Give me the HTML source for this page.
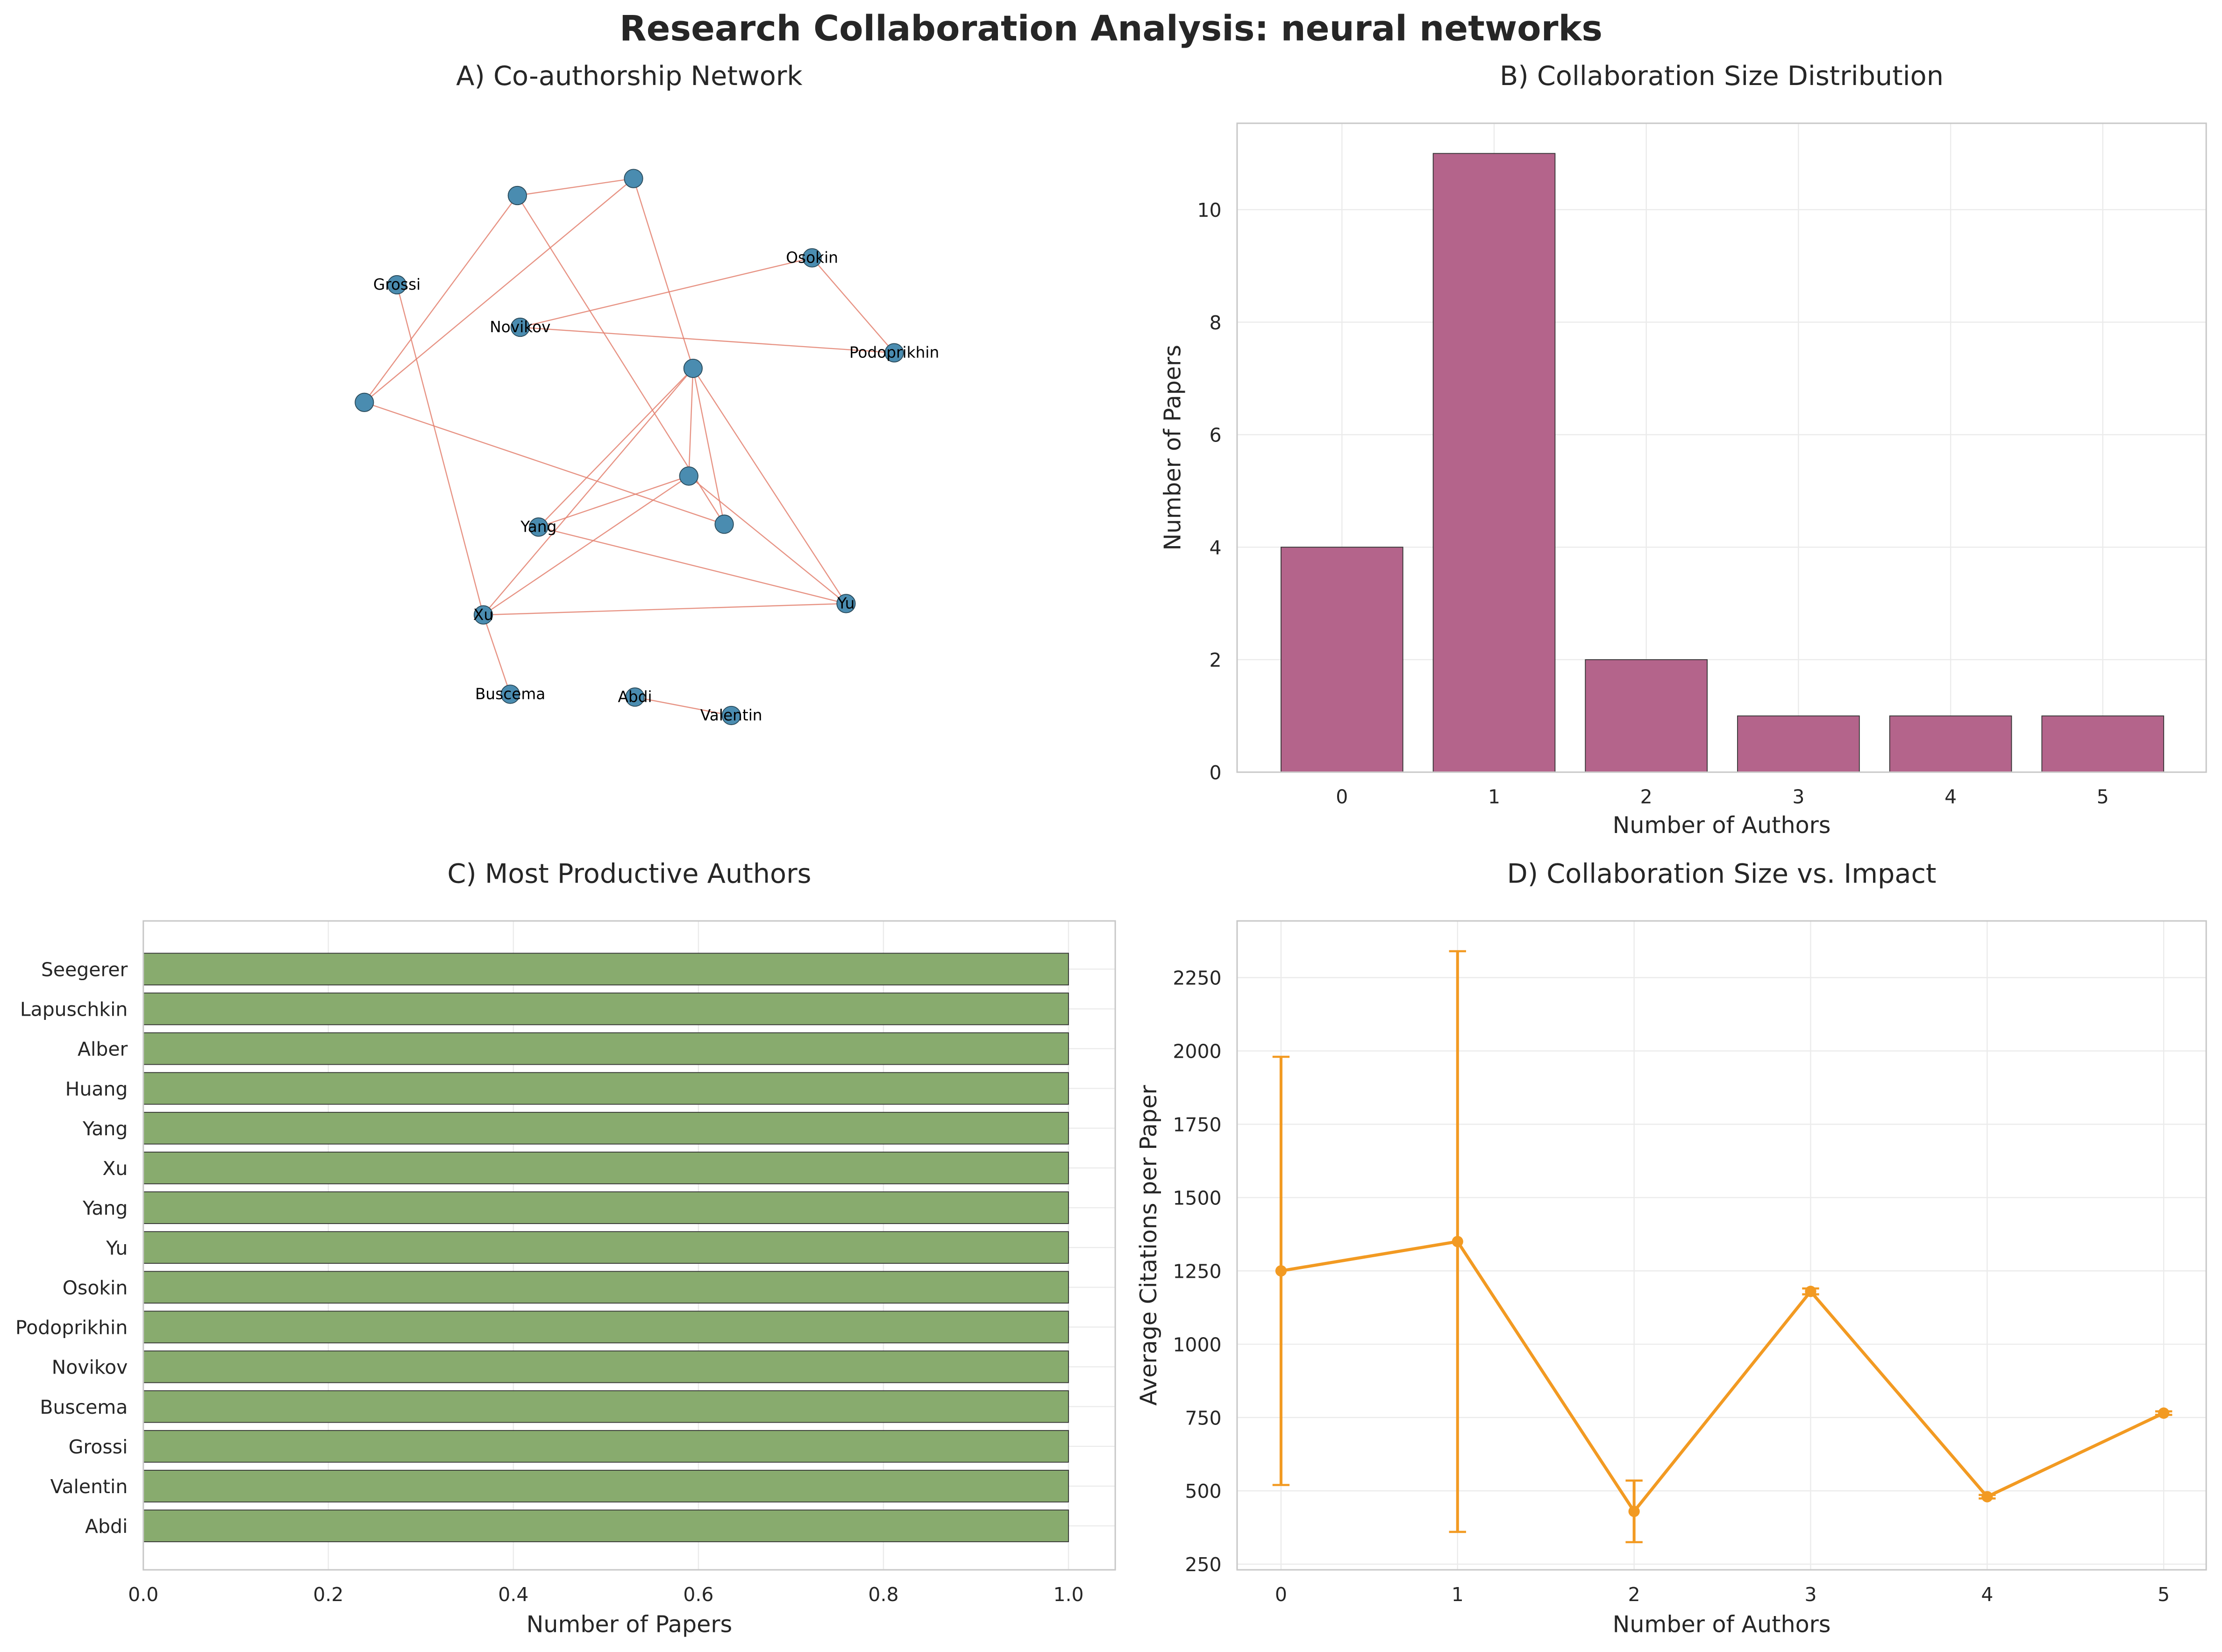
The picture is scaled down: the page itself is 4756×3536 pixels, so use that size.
<!DOCTYPE html>
<html><head><meta charset="utf-8"><style>
html,body{margin:0;padding:0;background:#fff}
svg{display:block;font-family:"DejaVu Sans","Liberation Sans",sans-serif}
</style></head><body>
<svg id="root" width="4756" height="3536" viewBox="0 0 1568 1166" xmlns="http://www.w3.org/2000/svg">
<rect width="1568" height="1166" fill="#fff"/>
<text x="784" y="28.5" text-anchor="middle" font-size="24.7" font-weight="bold" fill="#262626">Research Collaboration Analysis: neural networks</text>
<text x="444" y="60" text-anchor="middle" font-size="18.9" fill="#262626">A) Co-authorship Network</text>
<text x="1215" y="60" text-anchor="middle" font-size="18.9" fill="#262626">B) Collaboration Size Distribution</text>
<text x="444" y="623" text-anchor="middle" font-size="18.9" fill="#262626">C) Most Productive Authors</text>
<text x="1215" y="623" text-anchor="middle" font-size="18.9" fill="#262626">D) Collaboration Size vs. Impact</text>
<g id="A"></g>
<g id="B"></g>
<g id="C"></g>
<g id="D"></g>
</svg>
<script>
// Panel A data
const nodeNames = ["","","Grossi","Osokin","Novikov","Podoprikhin","","","","","Yang","Xu","Yu","Buscema","Abdi","Valentin"];
const nodeX = [365,447,280,573,367,631,257,489,486,511,380,341,597,360,448,516];
const nodeY = [138,126,201,182,231,249,284,260,336,370,372,434,426,490,492,505];
const edgeFrom = [0,0,1,0,1,2,4,4,3,6,7,7,7,7,8,8,8,10,11,11,14,7];
const edgeTo   = [1,6,6,9,7,11,3,5,5,9,10,11,9,12,10,11,12,12,12,13,15,8];
// Panel B data
const sizeCats = [0,1,2,3,4,5];
const paperCounts = [4,11,2,1,1,1];
const bYTicks = [0,2,4,6,8,10];
// Panel C data
const authors = ["Seegerer","Lapuschkin","Alber","Huang","Yang","Xu","Yang","Yu","Osokin","Podoprikhin","Novikov","Buscema","Grossi","Valentin","Abdi"];
const authorPapers = [1,1,1,1,1,1,1,1,1,1,1,1,1,1,1];
const cXTicks = [0,0.2,0.4,0.6,0.8,1.0];
// Panel D data
const impactCats = [0,1,2,3,4,5];
const meanCites = [1250,1350,430,1180,480,765];
const errCites = [730,990,105,10,6,6];
const dYTicks = [250,500,750,1000,1250,1500,1750,2000,2250];

const NS="http://www.w3.org/2000/svg";
function mk(parent,tag,attrs,text){const e=document.createElementNS(NS,tag);for(const k in attrs)e.setAttribute(k,attrs[k]);if(text!==undefined)e.textContent=text;parent.appendChild(e);return e;}
const LBL=16.2, TK=13.5;

// ---- A
const A=document.getElementById('A');
for(let i=0;i<edgeFrom.length;i++){
  const l=mk(A,'line',{x1:nodeX[edgeFrom[i]],y1:nodeY[edgeFrom[i]],x2:nodeX[edgeTo[i]],y2:nodeY[edgeTo[i]],stroke:'#e3806e','stroke-width':0.8,'stroke-opacity':0.85});
  
  
}
for(let i=0;i<nodeX.length;i++){
  const c=mk(A,'circle',{cx:nodeX[i],cy:nodeY[i],r:6.5,fill:'#4a8cb0',stroke:'#2a4a5a','stroke-width':0.6});
  
  
  if(nodeNames[i]){
    const t=mk(A,'text',{x:nodeX[i],y:nodeY[i]+3.5,'text-anchor':'middle','font-size':10.8,fill:'#000'},nodeNames[i]);
    
    
  }
}

// ---- B
const B=document.getElementById('B');
const bL=873,bR=1557,bT=87,bB=545;
const bx=v=>947+v*107.4, by=v=>545-v*39.7;
sizeCats.forEach(c=>{mk(B,'line',{x1:bx(c),x2:bx(c),y1:bT,y2:bB,stroke:'#ebebeb','stroke-width':0.8});});
bYTicks.forEach(v=>{mk(B,'line',{x1:bL,x2:bR,y1:by(v),y2:by(v),stroke:'#ebebeb','stroke-width':0.8});
  const t=mk(B,'text',{x:bL-11,y:by(v)+5,'text-anchor':'end','font-size':TK,fill:'#262626'},v);
  
  });
sizeCats.forEach((c,i)=>{
  const r=mk(B,'rect',{x:bx(c)-43,y:by(paperCounts[i]),width:86,height:by(0)-by(paperCounts[i]),fill:'#b4648b',stroke:'#333','stroke-width':0.6});
  
  
  const t=mk(B,'text',{x:bx(c),y:bB+22,'text-anchor':'middle','font-size':TK,fill:'#262626'},c);
  
  
});
mk(B,'rect',{x:bL,y:bT,width:bR-bL,height:bB-bT,fill:'none',stroke:'#c8c8c8','stroke-width':1});
let t=mk(B,'text',{x:1215,y:588,'text-anchor':'middle','font-size':LBL,fill:'#262626'},'Number of Authors');

t=mk(B,'text',{x:833,y:316,'text-anchor':'middle','font-size':LBL,fill:'#262626',transform:'rotate(-90 833 316)'},'Number of Papers');


// ---- C
const C=document.getElementById('C');
const cL=101,cR=787,cT=650,cB=1108;
const cx=v=>101+v*653, cy=i=>684+i*28.07;
cXTicks.forEach(v=>{mk(C,'line',{x1:cx(v),x2:cx(v),y1:cT,y2:cB,stroke:'#ebebeb','stroke-width':0.8});
  const t=mk(C,'text',{x:cx(v),y:cB+22,'text-anchor':'middle','font-size':TK,fill:'#262626'},v.toFixed(1));
  });
authors.forEach((a,i)=>{
  mk(C,'line',{x1:cL,x2:cR,y1:cy(i),y2:cy(i),stroke:'#ebebeb','stroke-width':0.8});
  const r=mk(C,'rect',{x:cx(0),y:cy(i)-11.2,width:cx(authorPapers[i])-cx(0),height:22.4,fill:'#88ab6e',stroke:'#333','stroke-width':0.6});
  
  
  const t=mk(C,'text',{x:cL-11,y:cy(i)+5,'text-anchor':'end','font-size':TK,fill:'#262626'},a);
  
});
mk(C,'rect',{x:cL,y:cT,width:cR-cL,height:cB-cT,fill:'none',stroke:'#c8c8c8','stroke-width':1});
t=mk(C,'text',{x:444,y:1152,'text-anchor':'middle','font-size':LBL,fill:'#262626'},'Number of Papers');


// ---- D
const D=document.getElementById('D');
const dL=873,dR=1557,dT=650,dB=1108;
const dx=v=>904+v*124.6, dy=v=>1104-(v-250)*0.207;
impactCats.forEach(c=>{mk(D,'line',{x1:dx(c),x2:dx(c),y1:dT,y2:dB,stroke:'#ebebeb','stroke-width':0.8});
  const t=mk(D,'text',{x:dx(c),y:dB+22,'text-anchor':'middle','font-size':TK,fill:'#262626'},c);
  });
dYTicks.forEach(v=>{mk(D,'line',{x1:dL,x2:dR,y1:dy(v),y2:dy(v),stroke:'#ebebeb','stroke-width':0.8});
  const t=mk(D,'text',{x:dL-11,y:dy(v)+5,'text-anchor':'end','font-size':TK,fill:'#262626'},v);
  });
const col='#f29a22';
impactCats.forEach((c,i)=>{
  const x=dx(c),y1=dy(meanCites[i]-errCites[i]),y2=dy(meanCites[i]+errCites[i]);
  const g=mk(D,'g',{});
  
  
  mk(g,'line',{x1:x,x2:x,y1:y1,y2:y2,stroke:col,'stroke-width':2});
  mk(g,'line',{x1:x-6,x2:x+6,y1:y1,y2:y1,stroke:col,'stroke-width':1.5});
  mk(g,'line',{x1:x-6,x2:x+6,y1:y2,y2:y2,stroke:col,'stroke-width':1.5});
});
const pts=impactCats.map((c,i)=>dx(c)+','+dy(meanCites[i])).join(' ');
const pl=mk(D,'polyline',{points:pts,fill:'none',stroke:col,'stroke-width':2.2});


impactCats.forEach((c,i)=>{
  const p=mk(D,'circle',{cx:dx(c),cy:dy(meanCites[i]),r:4,fill:col});
  
  
});
mk(D,'rect',{x:dL,y:dT,width:dR-dL,height:dB-dT,fill:'none',stroke:'#c8c8c8','stroke-width':1});
t=mk(D,'text',{x:1215,y:1152,'text-anchor':'middle','font-size':LBL,fill:'#262626'},'Number of Authors');

t=mk(D,'text',{x:816,y:879,'text-anchor':'middle','font-size':LBL,fill:'#262626',transform:'rotate(-90 816 879)'},'Average Citations per Paper');

</script>
</body></html>
